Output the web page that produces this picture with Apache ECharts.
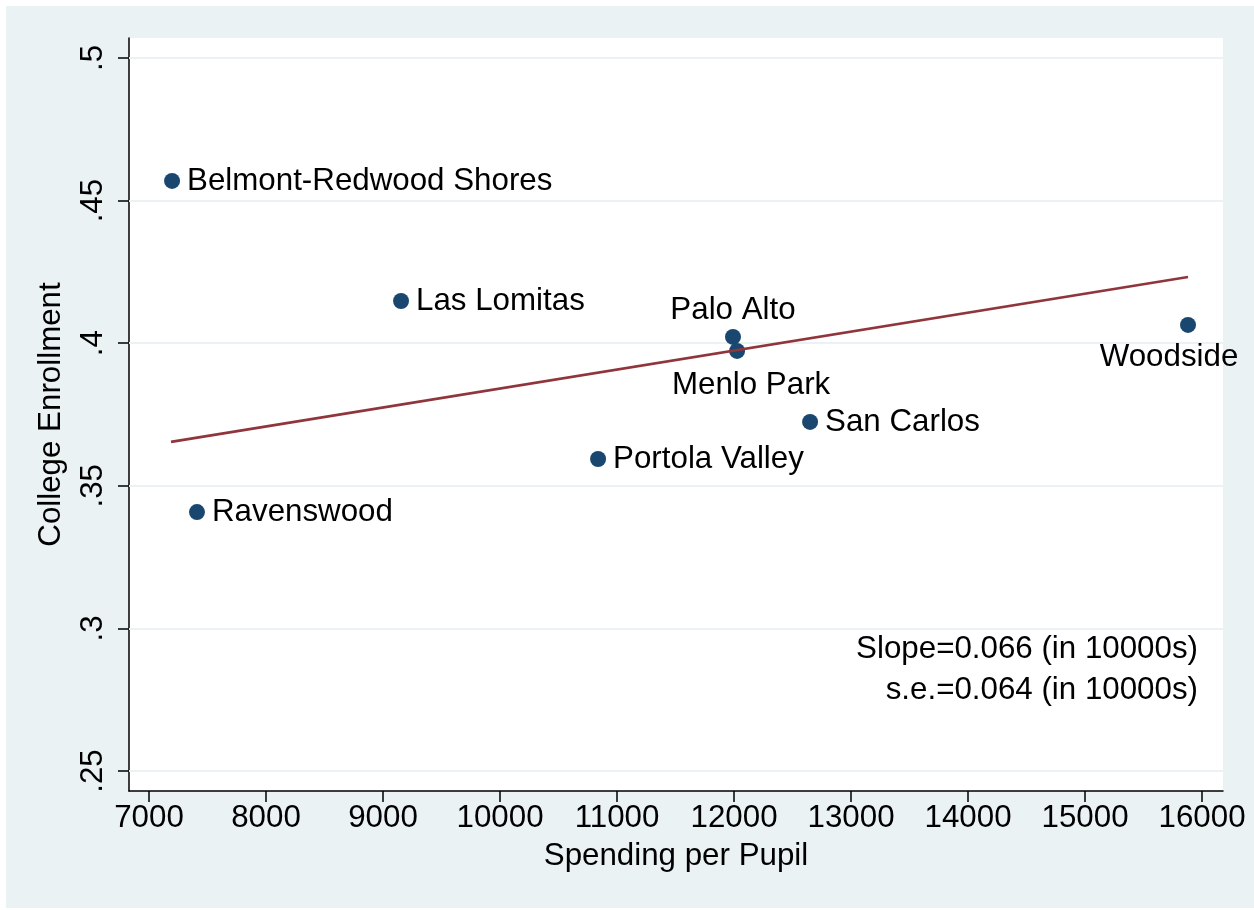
<!DOCTYPE html>
<html>
<head>
<meta charset="utf-8">
<script src="https://cdn.jsdelivr.net/npm/echarts@6/dist/echarts.min.js"></script>
<style>
    html, body { margin: 0; padding: 0; background: #ffffff; }
    #scatter { position: absolute; left: 6px; top: 6px; width: 1248px; height: 902px; }
</style>
</head>
<body>
<div id="scatter"></div>
<script>
// 学区数据：人均支出 vs 大学入学率
var districts = ['Belmont-Redwood Shores', 'Las Lomitas', 'Palo Alto', 'Menlo Park', 'Woodside', 'San Carlos', 'Portola Valley', 'Ravenswood'];
var spending = [7197, 9154, 11991, 12026, 15880, 12650, 10838, 7410];
var enrollment = [0.4569, 0.4148, 0.4022, 0.3973, 0.4064, 0.3724, 0.3594, 0.3408];
// 拟合线两端
var fitX = [7188, 15880];
var fitY = [0.3654, 0.4232];
var xTicks = [7000, 8000, 9000, 10000, 11000, 12000, 13000, 14000, 15000, 16000];
var yTicks = [0.25, 0.3, 0.35, 0.4, 0.45, 0.5];
var noteLines = ['Slope=0.066 (in 10000s)', 's.e.=0.064 (in 10000s)'];

var font = 'Liberation Sans, Arial, sans-serif';
var fs = 31.3;

// 标签位置
var labelPos = {
    'Palo Alto': { position: 'top', distance: 3 },
    'Menlo Park': { position: 'bottom', distance: 11, offset: [14, 0] },
    'Woodside': { position: 'bottom', distance: 9, offset: [-19, 0] }
};

var points = [];
for (var i = 0; i < districts.length; i++) {
    var p = { name: districts[i], value: [spending[i], enrollment[i]] };
    var lp = labelPos[districts[i]];
    p.label = lp ? lp : { position: 'right', distance: 7 };
    points.push(p);
}
var fitData = [];
for (var j = 0; j < fitX.length; j++) {
    fitData.push([fitX[j], fitY[j]]);
}

// 注释文字
var notes = [];
for (var k = 0; k < noteLines.length; k++) {
    notes.push({
        type: 'text', right: 1248 - 1192, top: 628 + k * 41,
        style: { text: noteLines[k], fontSize: fs, fontFamily: font, fill: '#000' }
    });
}

var chart = echarts.init(document.getElementById('scatter'));
chart.setOption({
    backgroundColor: '#EAF2F3',
    animation: false,
    textStyle: { fontFamily: font },
    grid: {
        left: 123, top: 32, width: 1094, height: 753,
        show: true, backgroundColor: '#ffffff', borderWidth: 0
    },
    xAxis: {
        type: 'value',
        min: 6829, max: 16179,
        name: 'Spending per Pupil',
        nameLocation: 'middle',
        nameGap: 50,
        nameTextStyle: { fontSize: fs, color: '#000', fontFamily: font },
        axisLine: { show: true, onZero: false, lineStyle: { color: '#000', width: 1.5 } },
        axisTick: { show: true, length: 11, customValues: xTicks, lineStyle: { color: '#000', width: 1.5 } },
        axisLabel: {
            customValues: xTicks, margin: 12, fontSize: fs, color: '#000', fontFamily: font,
            formatter: function (v) { return String(v); }
        },
        splitLine: { show: false }
    },
    yAxis: {
        type: 'value',
        min: 0.243, max: 0.507,
        name: 'College Enrollment',
        nameLocation: 'middle',
        nameGap: 62,
        nameTextStyle: { fontSize: fs, color: '#000', fontFamily: font },
        axisLine: { show: true, onZero: false, lineStyle: { color: '#000', width: 1.5 } },
        axisTick: { show: true, length: 11, customValues: yTicks, lineStyle: { color: '#000', width: 1.5 } },
        axisLabel: {
            customValues: yTicks, rotate: 90, margin: 20, fontSize: fs, color: '#000', fontFamily: font,
            formatter: function (v) { return String(+v.toFixed(2)).replace(/^0/, ''); }
        },
        splitLine: { show: false }
    },
    graphic: notes,
    series: [{
        // 网格线
        type: 'line',
        data: [],
        z: 1,
        markLine: {
            silent: true,
            z: 1,
            symbol: 'none',
            label: { show: false },
            lineStyle: { color: '#EAF2F3', width: 2, type: 'solid' },
            data: yTicks.map(function (v) { return { yAxis: v }; })
        }
    }, {
        type: 'scatter',
        data: points,
        symbol: 'circle',
        symbolSize: 16,
        itemStyle: { color: '#1A476F', opacity: 1 },
        z: 3,
        label: {
            show: true,
            formatter: '{b}',
            fontSize: fs,
            color: '#000',
            fontFamily: font
        }
    }, {
        type: 'line',
        data: fitData,
        symbol: 'none',
        lineStyle: { color: '#90353B', width: 2.6 },
        z: 6
    }]
});
</script>
</body>
</html>
